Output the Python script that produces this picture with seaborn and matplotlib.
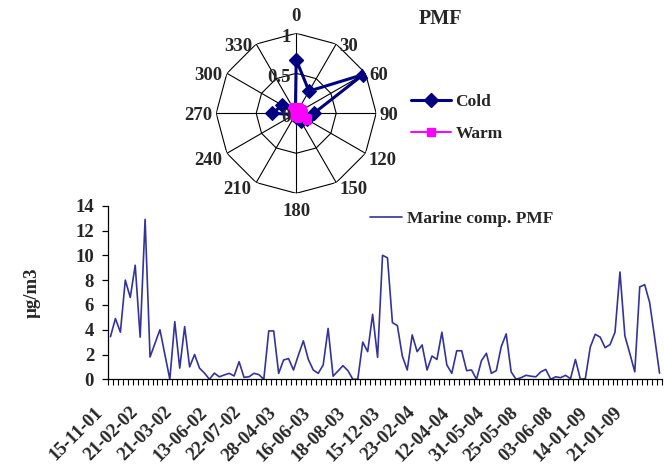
import numpy as np
import pandas as pd
import matplotlib
matplotlib.use("Agg")
import matplotlib.pyplot as plt
import matplotlib.transforms as mtransforms
from matplotlib.lines import Line2D
import seaborn as sns

# ---- data ----
directions = [0, 30, 60, 90, 120, 150, 180, 210, 240, 270, 300, 330]
cold = [0.67, 0.32, 0.97, 0.22, 0.15, 0.11, 0.04, 0.02, 0.03, 0.30, 0.20, 0.02]
warm = [0.05, 0.07, 0.09, 0.08, 0.15, 0.05, 0.02, 0.02, 0.02, 0.04, 0.06, 0.08]
radial_ticks = [0, 0.5, 1]
radial_labels = ["0", "0.5", "1"]

marine = [3.44, 4.9, 3.8, 8.0, 6.6, 9.2, 3.4, 12.9, 1.8, 2.9,
          4.0, 2.0, 0.0, 4.65, 0.9, 4.25, 1.0, 2.0, 0.9, 0.5,
          0.0, 0.5, 0.2, 0.35, 0.48, 0.27, 1.42, 0.16, 0.2, 0.48,
          0.38, 0.0, 3.9, 3.9, 0.48, 1.56, 1.67, 0.75, 1.96, 3.1,
          1.6, 0.75, 0.48, 1.15, 4.1, 0.25, 0.67, 1.1, 0.7, 0.0,
          0.0, 3.0, 2.23, 5.24, 1.77, 10.0, 9.8, 4.57, 4.33, 1.88,
          0.75, 3.58, 2.23, 2.77, 0.75, 1.88, 1.6, 3.8, 1.16, 0.48,
          2.3, 2.3, 0.7, 0.75, 0.0, 1.5, 2.1, 0.48, 0.7, 2.63,
          3.66, 0.6, 0.0, 0.13, 0.32, 0.25, 0.2, 0.6, 0.8, 0.0,
          0.2, 0.13, 0.32, 0.05, 1.6, 0.0, 0.05, 2.6, 3.63, 3.4,
          2.55, 2.8, 3.8, 8.65, 3.5, 2.07, 0.6, 7.45, 7.63, 6.2,
          3.4, 0.5]
date_labels = ["15-11-01", "21-02-02", "21-03-02", "13-06-02", "22-07-02",
               "28-04-03", "16-06-03", "18-08-03", "15-12-03", "23-02-04",
               "12-04-04", "31-05-04", "25-05-08", "03-06-08", "14-01-09",
               "21-01-09"]
label_step = 7

sns.set_theme(style="white")
plt.rcParams["font.family"] = ["Liberation Serif", "DejaVu Serif"]
plt.rcParams["font.weight"] = "bold"

FS = 13.5      # tick / axis text
FS_LEG = 12.5  # legend text

W, H = 664, 470
fig = plt.figure(figsize=(W / 100, H / 100), dpi=100)

def box(x0, y0, x1, y1):
    return [x0 / W, 1 - y1 / H, (x1 - x0) / W, (y1 - y0) / H]

def fig_xy(x, y):
    return (x / W, 1 - y / H)

# ---- wind-direction radar ----
cx, cy, R = 296.2, 113.3, 80
rax = fig.add_axes(box(cx - R, cy - R, cx + R, cy + R), projection="polar")
rax.set_theta_zero_location("N")
rax.set_theta_direction(-1)
rax.grid(False)
rax.spines["polar"].set_visible(False)
rax.set_facecolor("none")

theta = np.deg2rad(directions)
theta_closed = np.append(theta, theta[0])
for r in radial_ticks[1:]:
    rax.plot(theta_closed, [r] * len(theta_closed), color="black", lw=0.8, zorder=1)
for t in theta:
    rax.plot([t, t], [0, 1], color="black", lw=0.8, zorder=1)

rdf_cold = pd.DataFrame({"theta": theta_closed, "r": np.append(cold, cold[0])})
rdf_warm = pd.DataFrame({"theta": theta_closed, "r": np.append(warm, warm[0])})
sns.lineplot(data=rdf_cold, x="theta", y="r", sort=False, estimator=None, ax=rax,
             color="#000080", lw=2.2, marker="D", markersize=7,
             markeredgecolor="#000080", zorder=3)
sns.lineplot(data=rdf_warm, x="theta", y="r", sort=False, estimator=None, ax=rax,
             color="#FF00FF", lw=1.4, marker="s", markersize=6,
             markeredgecolor="#FF00FF", zorder=4)
rax.set_ylim(0, 1)
rax.set_xlabel("")
rax.set_ylabel("")
rax.set_yticks([])
rax.set_xticks([])
if rax.get_legend() is not None:
    rax.get_legend().remove()

# direction labels sit just outside each outer vertex
def dir_label_style(d):
    if d == 0:
        return dict(ha="center", va="bottom"), (0, 6)
    if d == 180:
        return dict(ha="center", va="top"), (0, -7)
    if 0 < d < 120:
        return dict(ha="left", va="center"), (2.5, -1.5)
    if 120 <= d < 180:
        return dict(ha="left", va="top"), (2.5, 1)
    if 180 < d <= 240:
        return dict(ha="right", va="top"), (-3.5, 1)
    return dict(ha="right", va="center"), (-3, -1.5)

for d, t in zip(directions, theta):
    align, (dx, dy) = dir_label_style(d)
    tr = mtransforms.offset_copy(rax.transData, fig=fig, x=dx, y=dy, units="points")
    rax.text(t, 1, str(d), transform=tr, fontsize=FS, fontweight="bold",
             clip_on=False, **align)

off = mtransforms.offset_copy(rax.transData, fig=fig, x=-4, y=-3, units="points")
for rv, lab in zip(radial_ticks, radial_labels):
    rax.text(0, rv, lab, transform=off, ha="right", va="center",
             fontsize=FS, fontweight="bold", zorder=5)

fig.text(*fig_xy(440, 19), "PMF", ha="center", va="center",
         fontsize=14.5, fontweight="bold")
handles = [
    Line2D([], [], color="#000080", lw=2.2, marker="D", markersize=7),
    Line2D([], [], color="#FF00FF", lw=1.4, marker="s", markersize=6),
]
fig.legend(handles, ["Cold", "Warm"], loc="upper left",
           bbox_to_anchor=fig_xy(411, 93.5), frameon=False,
           prop={"size": FS_LEG, "weight": "bold"}, handlelength=2.3,
           labelspacing=0.95, handletextpad=0.25, borderpad=0, borderaxespad=0)

# ---- marine component time series ----
ax = fig.add_axes(box(108, 205.7, 662, 379.3))
ax.set_facecolor("none")
idx = np.arange(len(marine))
tdf = pd.DataFrame({"sample": idx, "conc": marine})
sns.lineplot(data=tdf, x="sample", y="conc", ax=ax, color="#333399", lw=1.2,
             label="Marine comp. PMF")
ax.set_xlim(-0.5, len(marine) - 0.5)
ax.set_ylim(0, 14)
ax.set_yticks(np.arange(0, 15, 2))
ax.set_yticklabels([str(v) for v in range(0, 15, 2)], fontsize=FS, fontweight="bold")
ax.set_ylabel("µg/m3", fontsize=FS, fontweight="bold")
ax.yaxis.set_label_coords(-67 / 554, 0.5)
ax.set_xlabel("")
for s in ["top", "right"]:
    ax.spines[s].set_visible(False)
for s in ["left", "bottom"]:
    ax.spines[s].set_color("black")
    ax.spines[s].set_linewidth(0.9)
ax.tick_params(axis="y", which="major", left=True, length=4, width=0.9, color="black", pad=6)
ax.set_xticks(idx[::label_step])
ax.set_xticklabels(date_labels, rotation=45, ha="right", va="center",
                   rotation_mode="anchor", fontsize=FS, fontweight="bold")
ax.set_xticks(np.arange(-0.5, len(marine), 1), minor=True)
ax.tick_params(axis="x", which="major", bottom=False, length=0, pad=22)
ax.tick_params(axis="x", which="minor", bottom=True, length=4, width=0.8, color="black")
shift = mtransforms.ScaledTranslation(-10 / 100, 0, fig.dpi_scale_trans)
for lab in ax.get_xticklabels():
    lab.set_transform(lab.get_transform() + shift)
ax.legend(loc="upper left", bbox_to_anchor=fig_xy(370, 211), bbox_transform=fig.transFigure,
          frameon=False, prop={"size": FS_LEG, "weight": "bold"},
          handlelength=1.85, handletextpad=0.3, borderpad=0, borderaxespad=0)

fig.savefig("out.png", dpi=100)
